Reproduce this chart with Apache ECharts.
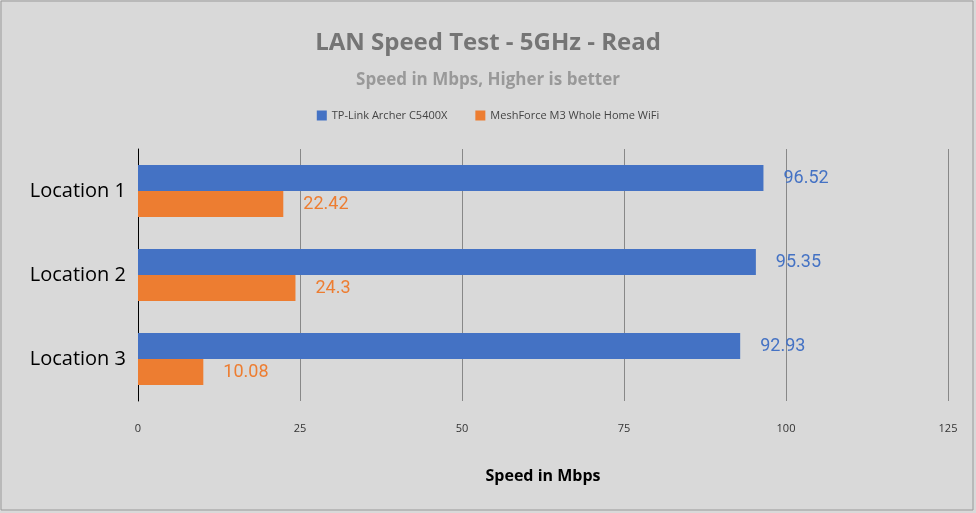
<!DOCTYPE html>
<html><head><meta charset="utf-8">
<script src="https://cdn.jsdelivr.net/npm/echarts@6/dist/echarts.min.js"></script>
<style>html,body{margin:0;padding:0;background:#d9d9d9}#c{width:976px;height:513px}</style>
</head><body><div id="c"></div>
<script>
const categories = ['Location 1','Location 2','Location 3'];
const seriesNames = ['TP-Link Archer C5400X','MeshForce M3 Whole Home WiFi'];
const tplink = [96.52, 95.35, 92.93];
const meshforce = [22.42, 24.3, 10.08];
const colors = ['#4472c4','#ed7d31'];
const chart = echarts.init(document.getElementById('c'));
const font = 'Open Sans';
function mk(name, data, color){
  return {name, type:'bar', data, barWidth:26, barGap:'0%', itemStyle:{color},
    label:{show:true, position:'right', distance:20, color, fontSize:18, fontFamily:'Roboto'}};
}
chart.setOption({
  backgroundColor:'#d9d9d9',
  animation:false,
  graphic:[{type:'rect', shape:{x:1,y:1,width:972,height:509}, style:{fill:null, stroke:'#999', lineWidth:1}}],
  title:[{text:'LAN Speed Test - 5GHz - Read', left:'center', top:26, textStyle:{fontFamily:font, fontSize:24, fontWeight:'bold', color:'#757575'}},
         {text:'Speed in Mbps, Higher is better', left:'center', top:67, textStyle:{fontFamily:font, fontSize:17, fontWeight:'bold', color:'#999'}}],
  legend:{top:105, left:'center', itemWidth:10, itemHeight:10, icon:'rect', itemGap:28, textStyle:{fontFamily:font, fontSize:11, color:'#444'}},
  grid:{left:138, right:28, top:149, bottom:112, containLabel:false},
  xAxis:{type:'value', min:0, max:125, interval:25, name:'Speed in Mbps', nameLocation:'middle', nameGap:67,
    nameTextStyle:{fontFamily:font, fontSize:16, fontWeight:'bold', color:'#000'},
    axisLabel:{fontFamily:font, fontSize:11, color:'#333', margin:22},
    splitLine:{lineStyle:{color:'#888'}}, axisLine:{show:false}},
  yAxis:{type:'category', data:categories, inverse:true, axisTick:{show:false},
    axisLine:{lineStyle:{color:'#000'}},
    axisLabel:{fontFamily:font, fontSize:20, color:'#000', margin:12}},
  series:[mk(seriesNames[0], tplink, colors[0]), mk(seriesNames[1], meshforce, colors[1])]
});
</script></body></html>
